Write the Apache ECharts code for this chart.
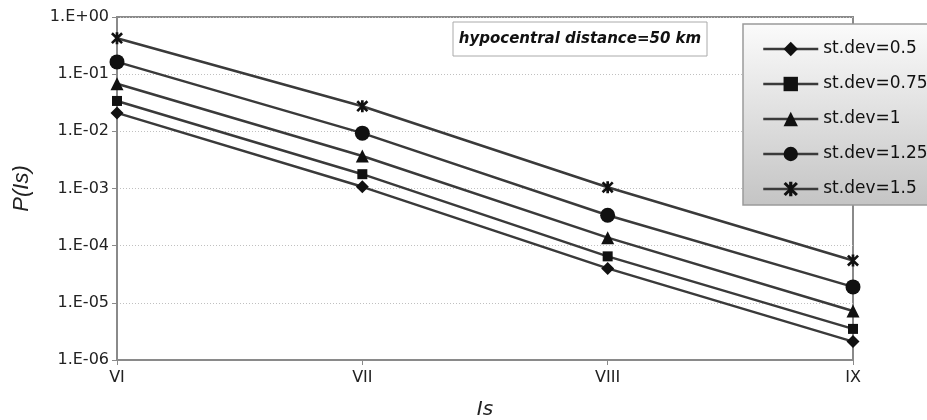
<!DOCTYPE html>
<html>
<head>
<meta charset="utf-8">
<script src="https://cdn.jsdelivr.net/npm/echarts@6/dist/echarts.min.js"></script>
<style>html,body{margin:0;padding:0;background:#fff}#c{width:927px;height:420px}</style>
</head>
<body>
<div id="c"></div>
<script>
var categories = ['VI', 'VII', 'VIII', 'IX'];
var seriesNames = ['st.dev=0.5', 'st.dev=0.75', 'st.dev=1', 'st.dev=1.25', 'st.dev=1.5'];
var sd05  = [0.021, 0.00107, 4.0e-5, 2.1e-6];
var sd075 = [0.034, 0.00178, 6.5e-5, 3.5e-6];
var sd1   = [0.068, 0.0037, 1.38e-4, 7.2e-6];
var sd125 = [0.164, 0.0093, 3.4e-4, 1.9e-5];
var sd15  = [0.425, 0.0275, 1.05e-3, 5.5e-5];
var annotationText = 'hypocentral distance=50 km';

var starPath = 'path://M3.9,0L6.1,0L6.1,10L3.9,10Z' +
  'M0.1,1.6L1.6,0.1L9.9,8.4L8.4,9.9Z' +
  'M8.4,0.1L9.9,1.6L1.6,9.9L0.1,8.4Z';
var symbols = ['diamond', 'rect', 'triangle', 'circle', starPath];
var sizes = [13, 10, 13, 15, 12];
var allData = [sd05, sd075, sd1, sd125, sd15];

var chart = echarts.init(document.getElementById('c'), null, {renderer: 'canvas'});
var series = allData.map(function (d, i) {
  return {
    name: seriesNames[i],
    type: 'line',
    data: d,
    symbol: symbols[i],
    symbolSize: sizes[i],
    showAllSymbol: true,
    lineStyle: {color: '#3a3a3a', width: 2.5},
    itemStyle: {color: '#111', borderWidth: 0},
    z: 2
  };
});

function fmt(v) {
  var e = Math.round(Math.log10(v));
  var a = Math.abs(e);
  return '1.E' + (e >= 0 ? '+' : '-') + (a < 10 ? '0' + a : a);
}

chart.setOption({
  animation: false,
  grid: {left: 117, right: 74, top: 17, bottom: 60, show: true, borderColor: '#8a8a8a', borderWidth: 2,
         backgroundColor: 'transparent', containLabel: false, outerBoundsMode: 'none'},
  xAxis: {
    type: 'category',
    data: categories,
    boundaryGap: false,
    name: 'Is',
    nameLocation: 'middle',
    nameGap: 40,
    nameTextStyle: {fontFamily: 'DejaVu Sans', fontStyle: 'italic', fontSize: 20, color: '#222'},
    axisLine: {lineStyle: {color: '#8a8a8a', width: 2}},
    axisTick: {show: true, alignWithLabel: true, length: 5, lineStyle: {color: '#8a8a8a'}},
    axisLabel: {fontFamily: 'DejaVu Sans', fontSize: 16, color: '#222', margin: 10},
    splitLine: {show: false}
  },
  yAxis: {
    type: 'log',
    logBase: 10,
    min: 1e-6,
    max: 1,
    name: 'P(Is)',
    nameLocation: 'middle',
    nameGap: 84,
    nameRotate: 90,
    nameTextStyle: {fontFamily: 'Liberation Sans', fontStyle: 'italic', fontSize: 22, color: '#222'},
    axisLine: {show: true, lineStyle: {color: '#8a8a8a', width: 2}},
    axisTick: {show: true, length: 5, lineStyle: {color: '#8a8a8a'}},
    axisLabel: {fontFamily: 'DejaVu Sans', fontSize: 16, color: '#222', margin: 8, formatter: fmt},
    splitLine: {show: true, lineStyle: {color: '#c0c0c0', type: [1, 2], width: 1}},
    minorTick: {show: false}
  },
  legend: {
    orient: 'vertical',
    left: 757,
    top: 35,
    itemWidth: 55,
    itemHeight: 18,
    itemGap: 17,
    data: seriesNames,
    lineStyle: {width: 2.5, color: '#3a3a3a'},
    textStyle: {fontFamily: 'DejaVu Sans', fontSize: 17, color: '#111', lineHeight: 18},
    z: 5
  },
  graphic: [
    {
      type: 'rect', z: 3,
      shape: {x: 743, y: 24, width: 200, height: 181},
      style: {
        fill: new echarts.graphic.LinearGradient(0, 0, 0, 1, [
          {offset: 0, color: '#fbfbfb'}, {offset: 1, color: '#c4c4c4'}
        ]),
        stroke: '#9a9a9a', lineWidth: 1.5
      }
    },
    {
      type: 'rect', z: 3,
      shape: {x: 453, y: 22, width: 254, height: 34},
      style: {fill: '#fff', stroke: '#aaa', lineWidth: 1}
    },
    {
      type: 'text', z: 4,
      x: 580, y: 39,
      style: {
        text: annotationText,
        fontFamily: 'DejaVu Sans', fontWeight: 'bold', fontStyle: 'italic', fontSize: 15,
        fill: '#111', align: 'center', verticalAlign: 'middle'
      }
    }
  ],
  series: series
});
</script>
</body>
</html>
